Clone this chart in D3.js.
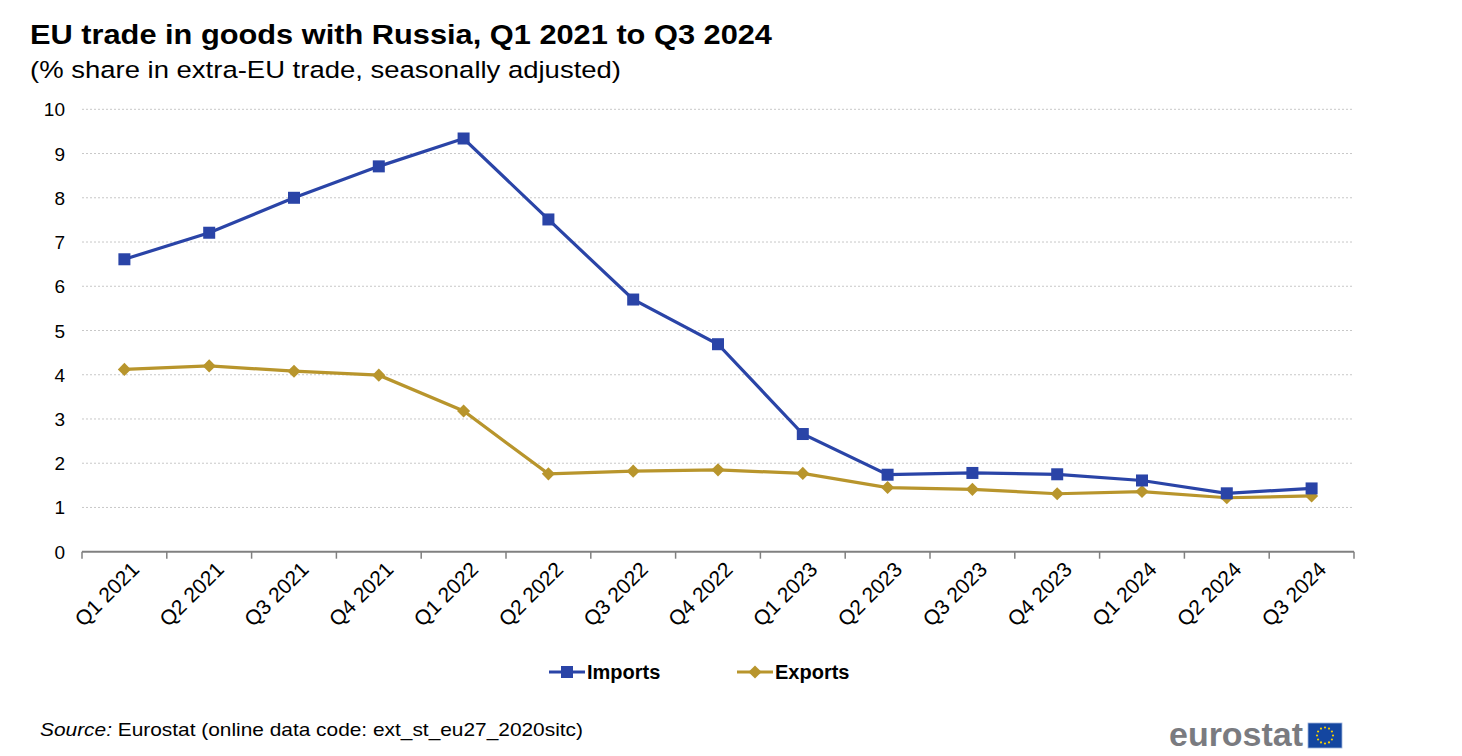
<!DOCTYPE html>
<html><head><meta charset="utf-8">
<script src="https://cdn.jsdelivr.net/npm/d3@7"></script>
<style>body{margin:0;background:#fff;} svg{display:block;font-family:"Liberation Sans",Arial,sans-serif;}</style>
</head><body>
<svg id="c" width="1462" height="756"></svg>
<script>
const categories = ["Q1 2021","Q2 2021","Q3 2021","Q4 2021","Q1 2022","Q2 2022","Q3 2022","Q4 2022","Q1 2023","Q2 2023","Q3 2023","Q4 2023","Q1 2024","Q2 2024","Q3 2024"];
const imports = [6.61,7.21,8.0,8.71,9.34,7.51,5.70,4.69,2.66,1.74,1.78,1.75,1.61,1.32,1.43];
const exports_ = [4.12,4.20,4.08,3.99,3.18,1.76,1.82,1.85,1.77,1.45,1.41,1.31,1.36,1.22,1.26];
const yTicks = [0,1,2,3,4,5,6,7,8,9,10];
const seriesNames = ["Imports","Exports"];

const svg = d3.select("#c");
const colImp = "#2A44A7", colExp = "#B8952C";
const x = d3.scaleBand().domain(categories).range([82,1354]);
const y = d3.scaleLinear().domain([0,10]).range([551.7,109.3]);

svg.append("text").attr("x",30).attr("y",44).attr("font-size",27).attr("font-weight","bold").attr("fill","#000")
  .attr("textLength",742).attr("lengthAdjust","spacingAndGlyphs")
  .text("EU trade in goods with Russia, Q1 2021 to Q3 2024");
svg.append("text").attr("x",30).attr("y",78).attr("font-size",24.5).attr("fill","#000")
  .attr("textLength",591).attr("lengthAdjust","spacingAndGlyphs")
  .text("(% share in extra-EU trade, seasonally adjusted)");

// gridlines
svg.append("g").selectAll("line").data(yTicks.filter(d=>d>0)).join("line")
  .attr("x1",82).attr("x2",1354).attr("y1",d=>y(d)).attr("y2",d=>y(d))
  .attr("stroke","#c8c8c8").attr("stroke-width",1).attr("stroke-dasharray","2,2");

// y labels
svg.append("g").selectAll("text").data(yTicks).join("text")
  .attr("x",65).attr("y",d=>y(d)+7).attr("text-anchor","end").attr("font-size",19).attr("fill","#000")
  .text(d=>d);

// x axis
const xAxis = svg.append("g").attr("transform",`translate(0,${y(0)})`);
xAxis.append("line").attr("x1",82).attr("x2",1354).attr("stroke","#808080").attr("stroke-width",2);
const bounds = categories.map(c=>x(c)).concat([1354]);
xAxis.selectAll("line.t").data(bounds).join("line").attr("class","t")
  .attr("x1",d=>d).attr("x2",d=>d).attr("y1",0).attr("y2",7).attr("stroke","#808080").attr("stroke-width",1.5);
xAxis.selectAll("text").data(categories).join("text")
  .attr("transform",d=>`translate(${x(d)+x.bandwidth()/2+16},${19}) rotate(-45)`)
  .attr("text-anchor","end").attr("font-size",21).attr("fill","#000").text(d=>d);

const cx = d=>x(d)+x.bandwidth()/2;
const line = d3.line().x((d,i)=>cx(categories[i])).y(d=>y(d));
svg.append("path").datum(exports_).attr("d",line).attr("fill","none").attr("stroke",colExp).attr("stroke-width",3.2);
svg.append("path").datum(imports).attr("d",line).attr("fill","none").attr("stroke",colImp).attr("stroke-width",3.2);

svg.append("g").selectAll("path").data(exports_).join("path")
  .attr("d",d3.symbol().type(d3.symbolDiamond2).size(110))
  .attr("transform",(d,i)=>`translate(${cx(categories[i])},${y(d)})`).attr("fill",colExp);
svg.append("g").selectAll("rect").data(imports).join("rect")
  .attr("x",(d,i)=>cx(categories[i])-6).attr("y",d=>y(d)-6).attr("width",12).attr("height",12).attr("fill",colImp);

// legend
const leg = [{n:seriesNames[0],c:colImp,x:549},{n:seriesNames[1],c:colExp,x:737}];
const lg = svg.append("g");
leg.forEach((l,i)=>{
  lg.append("line").attr("x1",l.x).attr("x2",l.x+36).attr("y1",672).attr("y2",672).attr("stroke",l.c).attr("stroke-width",3.2);
  if(i===0) lg.append("rect").attr("x",l.x+12).attr("y",666).attr("width",12).attr("height",12).attr("fill",l.c);
  else lg.append("path").attr("d",d3.symbol().type(d3.symbolDiamond2).size(110)).attr("transform",`translate(${l.x+18},672)`).attr("fill",l.c);
  lg.append("text").attr("x",l.x+38).attr("y",679).attr("font-size",20).attr("font-weight","bold").attr("fill","#000").text(l.n);
});

// source
const src = svg.append("text").attr("x",40).attr("y",736).attr("font-size",19).attr("fill","#000")
  .attr("textLength",543).attr("lengthAdjust","spacingAndGlyphs");
src.append("tspan").attr("font-style","italic").text("Source:");
src.append("tspan").text(" Eurostat (online data code: ext_st_eu27_2020sitc)");

// logo
svg.append("text").attr("x",1169).attr("y",746).attr("font-size",33).attr("font-weight","bold").attr("fill","#7a7b80")
  .attr("textLength",134).attr("lengthAdjust","spacingAndGlyphs").text("eurostat");
svg.append("rect").attr("x",1308).attr("y",723).attr("width",34).attr("height",25).attr("fill","#1446A0").attr("stroke","#9fb3d9").attr("stroke-width",0.8);
const stars = d3.range(12);
svg.append("g").selectAll("circle").data(stars).join("circle")
  .attr("cx",d=>1325+8*Math.cos(d*Math.PI/6)).attr("cy",d=>735.5+8*Math.sin(d*Math.PI/6)).attr("r",1.1).attr("fill","#f5d000");
</script>
</body></html>
